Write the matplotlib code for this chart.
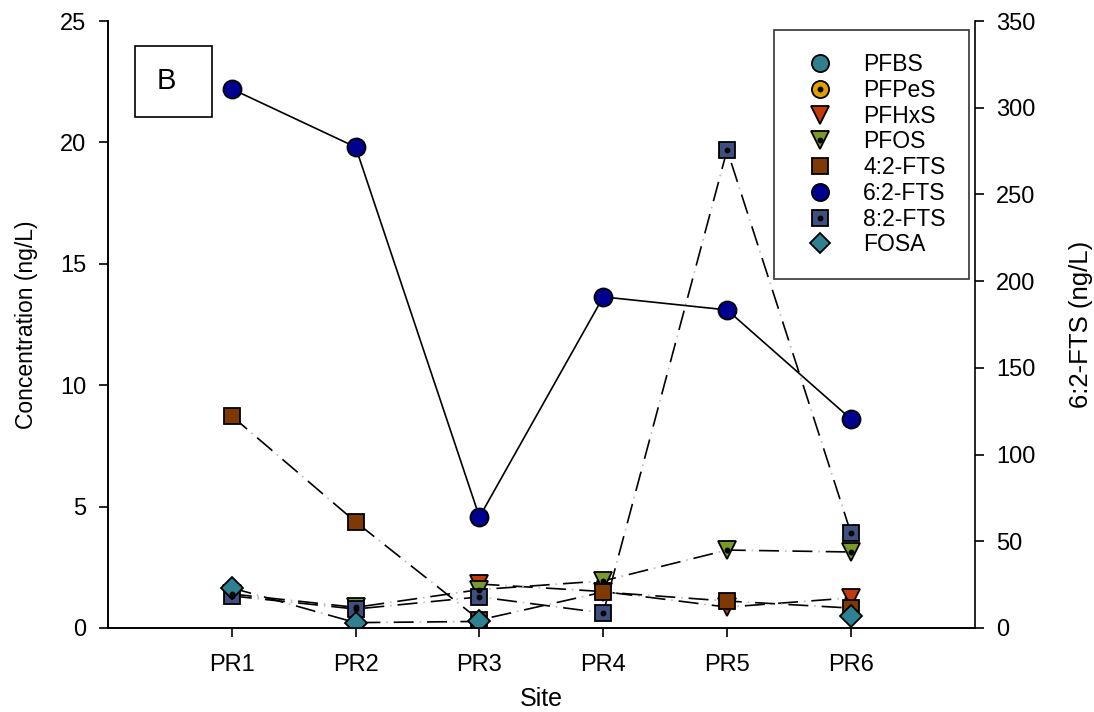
import numpy as np
import matplotlib.pyplot as plt
from matplotlib.lines import Line2D
from matplotlib.patches import Rectangle
from matplotlib.legend_handler import HandlerTuple

plt.rcParams['font.family'] = ['Liberation Sans', 'DejaVu Sans']

sites = ['PR1', 'PR2', 'PR3', 'PR4', 'PR5', 'PR6']
nan = np.nan

# left axis concentrations (ng/L)
pfbs = [nan, nan, nan, nan, nan, nan]
pfpes = [nan, nan, nan, nan, nan, nan]
pfhxs = [nan, nan, 1.81, 1.50, 0.86, 1.24]
pfos = [1.40, 0.85, 1.58, 1.94, 3.21, 3.13]
fts42 = [8.73, 4.37, 0.33, 1.48, 1.11, 0.82]
fts82 = [1.32, 0.78, 1.28, 0.62, 19.69, 3.91]
fosa = [1.65, 0.22, 0.27, nan, nan, 0.49]
# right axis 6:2-FTS (ng/L)
fts62 = [310.8, 277.3, 64.0, 190.9, 183.4, 120.5]

series = [
    # name, values, marker, colour, dot, size
    ('PFBS', pfbs, 'o', '#2f7f8f', False, 13),
    ('PFPeS', pfpes, 'o', '#e0a000', True, 13),
    ('PFHxS', pfhxs, 'v', '#c2390c', False, 13),
    ('PFOS', pfos, 'v', '#7a9a2c', True, 13),
    ('4:2-FTS', fts42, 's', '#7e3a02', False, 11.5),
    ('6:2-FTS', fts62, 'o', '#000090', False, 13),
    ('8:2-FTS', fts82, 's', '#3f5080', True, 11.5),
    ('FOSA', fosa, 'D', '#2f8090', False, 11),
]

x = np.arange(1, len(sites) + 1)

fig = plt.figure(figsize=(10.94, 7.12), dpi=100)
ax = fig.add_axes([0.0987, 0.118, 0.7923, 0.8525])
ax2 = ax.twinx()

handles = []
for name, vals, mk, col, dot, ms in series:
    target = ax2 if name == '6:2-FTS' else ax
    if name == '6:2-FTS':
        target.plot(x, vals, '-', color='black', lw=1.2, zorder=2)
    else:
        # long dashes with a faint dot in each gap
        target.plot(x, vals, color='black', lw=1.2, linestyle=(0, (12, 8)), zorder=2)
        target.plot(x, vals, color='#c8b4b4', lw=1.2, linestyle=(4.5, (1, 19)), zorder=2)
    target.plot(x, vals, linestyle='none', marker=mk, ms=ms, mfc=col,
                mec='black', mew=1.3, zorder=3)
    h = Line2D([], [], linestyle='none', marker=mk, ms=ms * 0.95, mfc=col,
               mec='black', mew=1.3)
    if dot:
        target.plot(x, vals, linestyle='none', marker='o', ms=3.2, color='black', zorder=4)
        d = Line2D([], [], linestyle='none', marker='o', ms=3.2, color='black')
        handles.append(((h, d), name))
    else:
        handles.append((h, name))

ax.set_xlim(0, 7)
ax.set_ylim(0, 25)
ax2.set_ylim(0, 350)
ax.set_xticks(x)
ax.set_xticklabels(sites)
ax.set_yticks(np.arange(0, 26, 5))
ax2.set_yticks(np.arange(0, 351, 50))

for a in (ax, ax2):
    a.spines['top'].set_visible(False)
    a.tick_params(direction='out', length=6.5, width=1.2, labelsize=17, pad=9)
    for s in a.spines.values():
        s.set_linewidth(1.2)
ax.spines['right'].set_visible(False)
ax.tick_params(axis='x', pad=12)

ax.set_xlabel('Site', fontsize=18, labelpad=8)
ax.set_ylabel('Concentration (ng/L)', fontsize=16.5, labelpad=16)
ax2.set_ylabel('6:2-FTS (ng/L)', fontsize=18.5, labelpad=24)

ax.add_patch(Rectangle((0.0311, 0.8418), 0.0888, 0.117, transform=ax.transAxes,
                       fc='white', ec='black', lw=1.2, zorder=5))
ax.text(0.067, 0.901, 'B', transform=ax.transAxes, fontsize=21, va='center',
        ha='center', zorder=6)

leg = ax2.legend([h for h, _ in handles], [n for _, n in handles],
                 handler_map={tuple: HandlerTuple(ndivide=1, pad=0)},
                 loc='upper right', bbox_to_anchor=(0.993, 0.985), fontsize=16.5,
                 frameon=True, fancybox=False, edgecolor='black', labelspacing=0.12,
                 handlelength=2.0, handletextpad=0.9, borderpad=1.0, borderaxespad=0)
leg.get_frame().set_linewidth(1.2)

fig.savefig('out.png', dpi=100)
